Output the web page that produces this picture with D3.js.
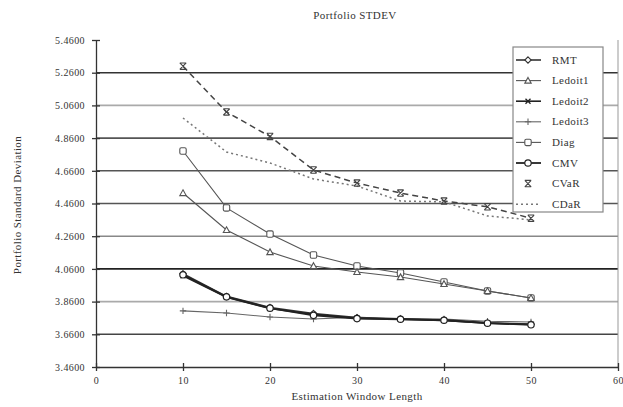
<!DOCTYPE html>
<html><head><meta charset="utf-8">
<script src="https://cdn.jsdelivr.net/npm/d3@7"></script>
<style>body{margin:0;background:#fff}svg text{font-family:"Liberation Serif","DejaVu Serif",serif;fill:#333;letter-spacing:0.4px}</style>
</head><body><svg id="c" width="623" height="407"></svg>
<script>
const windows = [10,15,20,25,30,35,40,45,50];
const RMT     = [4.030,3.892,3.824,3.787,3.762,3.755,3.748,3.730,3.722];
const Ledoit1 = [4.524,4.298,4.163,4.078,4.041,4.010,3.968,3.925,3.882];
const Ledoit2 = [4.018,3.886,3.818,3.782,3.758,3.752,3.745,3.728,3.720];
const Ledoit3 = [3.803,3.790,3.766,3.754,3.765,3.752,3.754,3.740,3.735];
const Diag    = [4.781,4.433,4.273,4.145,4.078,4.035,3.980,3.925,3.882];
const CMV     = [4.024,3.889,3.820,3.776,3.756,3.752,3.746,3.728,3.718];
const CVaR    = [5.300,5.020,4.870,4.665,4.585,4.524,4.475,4.440,4.370];
const CDaR    = [4.983,4.775,4.708,4.610,4.567,4.475,4.470,4.384,4.360];
const yTicks  = [3.46,3.66,3.86,4.06,4.26,4.46,4.66,4.86,5.06,5.26,5.46];
const xTicks  = [0,10,20,30,40,50,60];
const seriesNames = ["RMT","Ledoit1","Ledoit2","Ledoit3","Diag","CMV","CVaR","CDaR"];

const svg = d3.select("#c");
const x = d3.scaleLinear().domain([0,60]).range([96,618]);
const y = d3.scaleLinear().domain([3.46,5.46]).range([367,40]);

const gridColor = {"5.26":"#333","5.06":"#aaa","4.86":"#555","4.66":"#555","4.46":"#555","4.26":"#888","4.06":"#222","3.86":"#aaa","3.66":"#444"};
svg.append("g").selectAll("line").data(yTicks.slice(1,-1)).join("line")
  .attr("x1",96).attr("x2",618).attr("y1",d=>y(d)).attr("y2",d=>y(d))
  .attr("stroke",d=>gridColor[d.toFixed(2)]).attr("stroke-width",1.6);
svg.append("line").attr("x1",618).attr("x2",618).attr("y1",40).attr("y2",367).attr("stroke","#999").attr("stroke-width",1);

const yAxis = d3.axisLeft(y).tickValues(yTicks).tickFormat(d3.format(".4f")).tickSize(4).tickSizeOuter(0);
const gy = svg.append("g").attr("transform","translate(96,0)").call(yAxis);
const xAxis = d3.axisBottom(x).tickValues(xTicks).tickFormat(d3.format("d")).tickSize(4).tickSizeOuter(0);
const gx = svg.append("g").attr("transform","translate(0,367)").call(xAxis);
[gy,gx].forEach(g=>{g.select(".domain").attr("stroke","#333").attr("stroke-width",1.3);
  g.selectAll(".tick line").attr("stroke","#333").attr("stroke-width",1.3);
  g.selectAll("text").attr("font-family","Liberation Serif, serif").attr("font-size",10).attr("fill","#444");});
gy.selectAll(".tick line").attr("x1",-4).attr("x2",4);
gx.selectAll(".tick line").attr("y1",-4).attr("y2",4);
gy.selectAll("text").attr("x",-11);
gx.selectAll("text").attr("y",10);

svg.append("text").attr("x",355).attr("y",19).attr("text-anchor","middle").attr("font-size",11).text("Portfolio STDEV");
svg.append("text").attr("x",357).attr("y",400).attr("text-anchor","middle").attr("font-size",11).text("Estimation Window Length");
svg.append("text").attr("transform","translate(21,205) rotate(-90)").attr("text-anchor","middle").attr("font-size",11).text("Portfolio Standard Deviation");

const styles = {
  RMT:{data:RMT,stroke:"#333",w:1.6,dash:null,marker:"diamond"},
  Ledoit1:{data:Ledoit1,stroke:"#555",w:1.1,dash:null,marker:"triangle"},
  Ledoit2:{data:Ledoit2,stroke:"#222",w:1.6,dash:null,marker:"x"},
  Ledoit3:{data:Ledoit3,stroke:"#666",w:1.1,dash:null,marker:"plus"},
  Diag:{data:Diag,stroke:"#555",w:1.1,dash:null,marker:"square"},
  CMV:{data:CMV,stroke:"#222",w:1.8,dash:null,marker:"circle"},
  CVaR:{data:CVaR,stroke:"#444",w:1.5,dash:"6,4",marker:"hourglass"},
  CDaR:{data:CDaR,stroke:"#777",w:1.5,dash:"2,3",marker:null}
};
const line = d3.line().x(d=>x(d[0])).y(d=>y(d[1]));

function drawMarker(g,type,cx,cy,color){
  const s = 3.2;
  if(type==="diamond") g.append("path").attr("d",`M${cx},${cy-s}L${cx+s},${cy}L${cx},${cy+s}L${cx-s},${cy}Z`).attr("fill","#fff").attr("stroke",color).attr("stroke-width",1.1);
  else if(type==="triangle") g.append("path").attr("d",`M${cx},${cy-s}L${cx+s},${cy+s*0.8}L${cx-s},${cy+s*0.8}Z`).attr("fill","#fff").attr("stroke",color).attr("stroke-width",1.1);
  else if(type==="square") g.append("rect").attr("x",cx-s).attr("y",cy-s).attr("width",2*s).attr("height",2*s).attr("rx",1.5).attr("fill","#fff").attr("stroke",color).attr("stroke-width",1.1);
  else if(type==="circle") g.append("circle").attr("cx",cx).attr("cy",cy).attr("r",s).attr("fill","#fff").attr("stroke",color).attr("stroke-width",1.2);
  else if(type==="x") { const t=2.5; g.append("path").attr("d",`M${cx-t},${cy-t}L${cx+t},${cy+t}M${cx+t},${cy-t}L${cx-t},${cy+t}`).attr("stroke",color).attr("stroke-width",1.3).attr("fill","none"); }
  else if(type==="hourglass") g.append("path").attr("d",`M${cx-s},${cy-s}L${cx+s},${cy+s}M${cx+s},${cy-s}L${cx-s},${cy+s}M${cx-s},${cy-s}L${cx+s},${cy-s}M${cx-s},${cy+s}L${cx+s},${cy+s}`).attr("stroke",color).attr("stroke-width",1.1).attr("fill","none");
  else if(type==="plus") g.append("path").attr("d",`M${cx-s},${cy}L${cx+s},${cy}M${cx},${cy-s}L${cx},${cy+s}`).attr("stroke",color).attr("stroke-width",1.1);
}

const order = ["CDaR","CVaR","Diag","Ledoit1","Ledoit3","RMT","Ledoit2","CMV"];
order.forEach(name=>{
  const st = styles[name];
  const pts = windows.map((w,i)=>[w,st.data[i]]);
  const g = svg.append("g");
  g.append("path").attr("d",line(pts)).attr("fill","none").attr("stroke",st.stroke).attr("stroke-width",st.w).attr("stroke-dasharray",st.dash);
  if(st.marker) pts.forEach(p=>drawMarker(g,st.marker,x(p[0]),y(p[1]),st.stroke));
});

const lg = svg.append("g");
lg.append("rect").attr("x",513).attr("y",47).attr("width",90).attr("height",165).attr("fill","#fff").attr("stroke","#888").attr("stroke-width",1.2);
seriesNames.forEach((name,i)=>{
  const st = styles[name];
  const ly = 60 + i*20.6;
  if(name!=="CVaR") lg.append("line").attr("x1",516).attr("x2",541).attr("y1",ly).attr("y2",ly).attr("stroke",st.stroke).attr("stroke-width",st.w).attr("stroke-dasharray",st.dash);
  if(st.marker) drawMarker(lg,st.marker,528,ly,st.stroke);
  lg.append("text").attr("x",552).attr("y",ly+3.5).attr("font-size",11).text(name);
});
</script></body></html>
